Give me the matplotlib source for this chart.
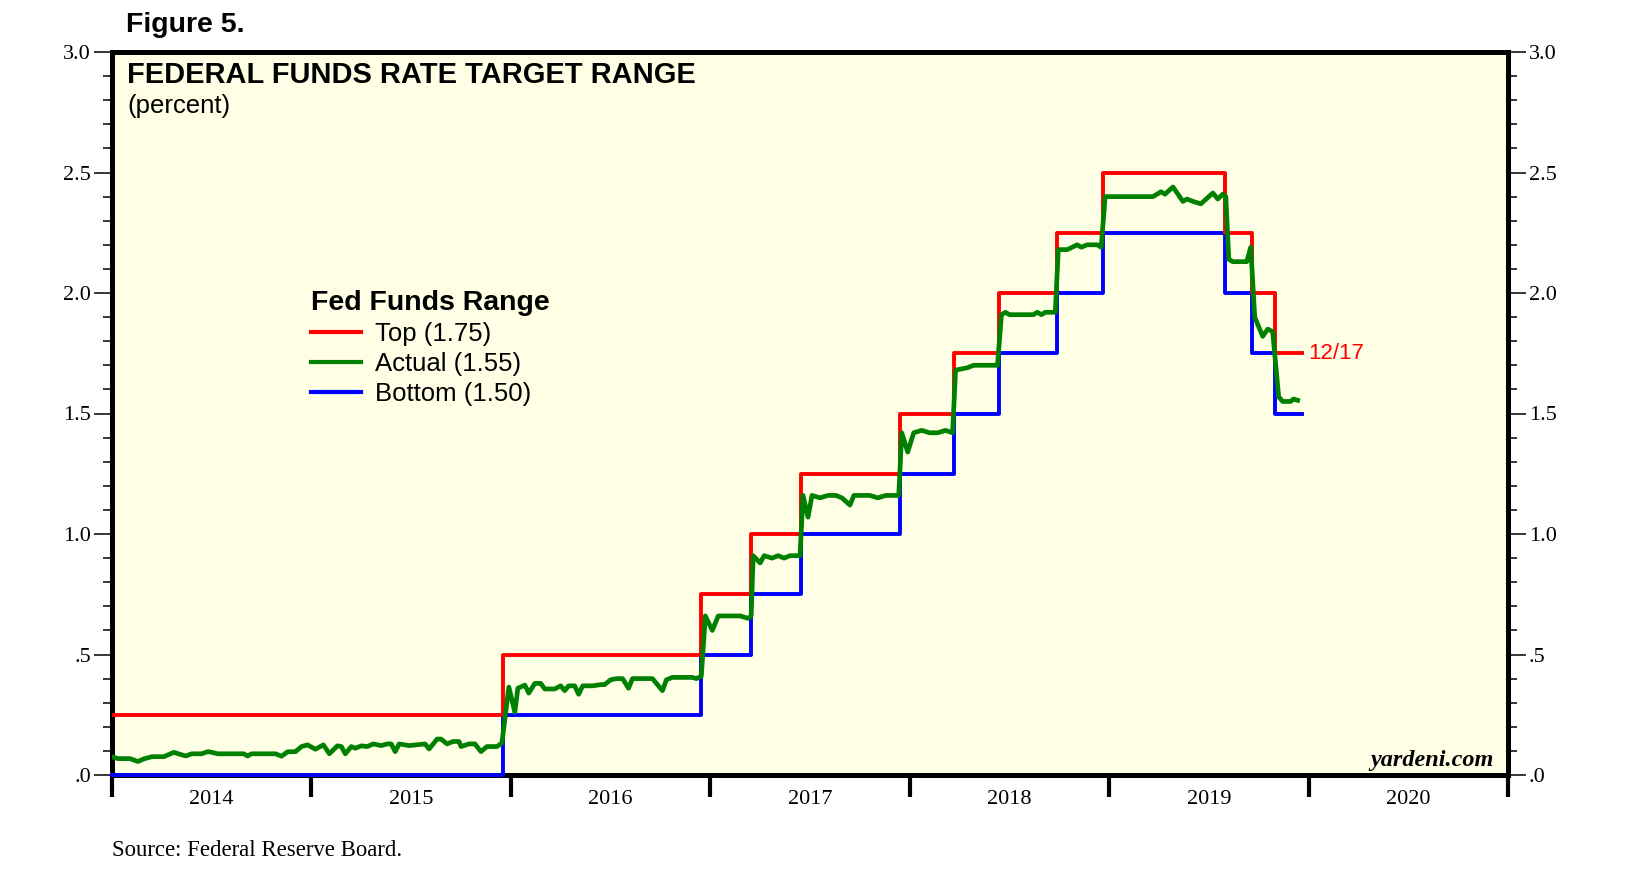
import matplotlib
matplotlib.use("Agg")
import matplotlib.pyplot as plt
from matplotlib.lines import Line2D
from matplotlib.ticker import FixedLocator, MultipleLocator, NullFormatter

# Target range: change dates (decimal years) and upper bound, last point = 12/17/2019
range_x = [2014.0, 2015.96, 2016.955, 2017.205, 2017.455, 2017.95, 2018.22, 2018.45,
           2018.74, 2018.97, 2019.58, 2019.715, 2019.83, 2019.965]
range_top = [0.25, 0.5, 0.75, 1.0, 1.25, 1.5, 1.75, 2.0, 2.25, 2.5, 2.25, 2.0, 1.75, 1.75]
range_bottom = [t - 0.25 for t in range_top]

# Effective fed funds rate
act_x = [2014.00, 2014.03, 2014.09, 2014.13, 2014.16, 2014.20, 2014.26, 2014.31, 2014.34, 2014.37,
         2014.40, 2014.45, 2014.48, 2014.50, 2014.53, 2014.66, 2014.68, 2014.70, 2014.82, 2014.85,
         2014.88, 2014.92, 2014.95, 2014.98, 2015.02, 2015.06, 2015.09, 2015.13, 2015.15, 2015.17,
         2015.20, 2015.22, 2015.25, 2015.28, 2015.31, 2015.35, 2015.38, 2015.40, 2015.42, 2015.44,
         2015.49, 2015.57, 2015.59, 2015.63, 2015.65, 2015.68, 2015.71, 2015.74, 2015.75, 2015.79,
         2015.82, 2015.85, 2015.88, 2015.93, 2015.955,
         2015.99, 2016.02, 2016.035, 2016.07, 2016.09, 2016.12, 2016.15, 2016.17, 2016.22, 2016.25,
         2016.27, 2016.29, 2016.32, 2016.34, 2016.36, 2016.41, 2016.45, 2016.47, 2016.50, 2016.53,
         2016.56, 2016.59, 2016.61, 2016.71, 2016.76, 2016.78, 2016.81, 2016.91, 2016.93, 2016.955,
         2016.975, 2017.01, 2017.04, 2017.15, 2017.19, 2017.205,
         2017.215, 2017.25, 2017.27, 2017.31, 2017.34, 2017.37, 2017.40, 2017.45,
         2017.465, 2017.49, 2017.51, 2017.55, 2017.59, 2017.63, 2017.66, 2017.70, 2017.72, 2017.76,
         2017.80, 2017.84, 2017.88, 2017.945,
         2017.96, 2017.99, 2018.02, 2018.06, 2018.10, 2018.14, 2018.18, 2018.215,
         2018.23, 2018.29, 2018.32, 2018.44,
         2018.46, 2018.48, 2018.50, 2018.62, 2018.64, 2018.66, 2018.68, 2018.73,
         2018.745, 2018.79, 2018.84, 2018.86, 2018.89, 2018.94, 2018.96,
         2018.98, 2019.22, 2019.26, 2019.28, 2019.32, 2019.37, 2019.39, 2019.42, 2019.46, 2019.52,
         2019.545, 2019.57, 2019.585,
         2019.60, 2019.62, 2019.69, 2019.71, 2019.73, 2019.77, 2019.795, 2019.82, 2019.85, 2019.87,
         2019.91, 2019.925, 2019.945]
act_y = [0.076, 0.068, 0.068, 0.056, 0.067, 0.076, 0.076, 0.094, 0.086, 0.079,
         0.088, 0.088, 0.097, 0.094, 0.088, 0.088, 0.079, 0.088, 0.088, 0.078,
         0.096, 0.097, 0.118, 0.125, 0.107, 0.125, 0.088, 0.121, 0.118, 0.088,
         0.118, 0.111, 0.121, 0.118, 0.129, 0.122, 0.129, 0.129, 0.097, 0.129,
         0.122, 0.129, 0.108, 0.149, 0.149, 0.129, 0.139, 0.139, 0.118, 0.129,
         0.129, 0.097, 0.118, 0.118, 0.132,
         0.365, 0.26, 0.36, 0.373, 0.34, 0.38, 0.38, 0.357, 0.357, 0.37,
         0.35, 0.37, 0.37, 0.335, 0.37, 0.37, 0.375, 0.375, 0.395, 0.40,
         0.40, 0.36, 0.40, 0.40, 0.35, 0.395, 0.405, 0.405, 0.40, 0.41,
         0.66, 0.60, 0.66, 0.66, 0.65, 0.66,
         0.91, 0.88, 0.91, 0.90, 0.91, 0.90, 0.91, 0.91,
         1.16, 1.07, 1.16, 1.15, 1.16, 1.16, 1.15, 1.12, 1.16, 1.16,
         1.16, 1.15, 1.16, 1.16,
         1.42, 1.34, 1.42, 1.43, 1.42, 1.42, 1.43, 1.42,
         1.68, 1.69, 1.70, 1.70,
         1.91, 1.92, 1.91, 1.91, 1.92, 1.91, 1.92, 1.92,
         2.18, 2.18, 2.20, 2.19, 2.20, 2.20, 2.19,
         2.40, 2.40, 2.42, 2.41, 2.44, 2.38, 2.39, 2.38, 2.37, 2.415,
         2.39, 2.41, 2.40,
         2.14, 2.13, 2.13, 2.19, 1.90, 1.82, 1.85, 1.84, 1.57, 1.55,
         1.55, 1.56, 1.555]

years = [2014, 2015, 2016, 2017, 2018, 2019, 2020]
ytick_vals = [0.0, 0.5, 1.0, 1.5, 2.0, 2.5, 3.0]
ytick_labels = ['.0', '.5', '1.0', '1.5', '2.0', '2.5', '3.0']
legend_labels = ['Top (1.75)', 'Actual (1.55)', 'Bottom (1.50)']

W, H = 1626, 894
serif = ['Liberation Serif', 'DejaVu Serif']
sans = ['Liberation Sans', 'DejaVu Sans']

fig = plt.figure(figsize=(W / 100, H / 100), dpi=100)
ax = fig.add_axes([112 / W, 1 - 775 / H, (1508 - 112) / W, (775 - 52) / H])
ax.set_facecolor('#ffffe6')

ax.step(range_x, range_bottom, where='post', color='#0000ff', lw=2.8, zorder=3, clip_on=False)
ax.step(range_x, range_top, where='post', color='#ff0000', lw=2.8, zorder=3)
ax.plot(act_x, act_y, color='#008000', lw=3.4, zorder=4, solid_joinstyle='round')

ax.set_xlim(2014, 2021)
ax.set_ylim(0, 3.0)

for s in ax.spines.values():
    s.set_linewidth(3.6)

# y axis on both sides
ax.yaxis.set_major_locator(FixedLocator(ytick_vals))
ax.set_yticklabels(ytick_labels)
ax.yaxis.set_minor_locator(MultipleLocator(0.1))
ax.tick_params(axis='y', which='major', direction='out', length=13, width=1.1,
               left=True, right=True, labelleft=True, labelright=True, labelsize=16, pad=2)
ax.tick_params(axis='y', which='minor', direction='out', length=6.5, width=1.1,
               left=True, right=True)

# x axis: year boundaries as ticks, labels mid-year
ax.xaxis.set_major_locator(FixedLocator(years + [2021]))
ax.xaxis.set_major_formatter(NullFormatter())
ax.xaxis.set_minor_locator(FixedLocator([y + 0.5 for y in years]))
ax.set_xticklabels([str(y) for y in years], minor=True)
ax.tick_params(axis='x', which='major', direction='out', length=16, width=3)
ax.tick_params(axis='x', which='minor', length=0, labelsize=16, pad=11)

for lab in ax.get_xticklabels(minor=True):
    lab.set_family(serif)
for t in ax.yaxis.get_major_ticks():
    t.label1.set_family(serif)
    t.label2.set_family(serif)

fig.text(126 / W, 1 - 25 / H, 'Figure 5.', family=sans, fontsize=20.5, weight='bold', va='center')
fig.text(127 / W, 1 - 75 / H, 'FEDERAL FUNDS RATE TARGET RANGE', family=sans, fontsize=20.9,
         weight='bold', va='center')
fig.text(127 / W, 1 - 106 / H, '(percent)', family=sans, fontsize=18.5, va='center')
fig.text(112 / W, 1 - 851 / H, 'Source: Federal Reserve Board.', family=serif, fontsize=16.4,
         va='center')
ax.text(0.9895, 0.013, 'yardeni.com', transform=ax.transAxes, family=serif, fontsize=17.5,
        weight='bold', style='italic', ha='right', va='baseline')

ax.annotate('12/17', xy=(range_x[-1], range_top[-1]), xytext=(5, 0), textcoords='offset points',
            color='#ff0000', family=sans, fontsize=16, va='center', ha='left')

handles = [Line2D([], [], color='#ff0000', lw=3),
           Line2D([], [], color='#008000', lw=3),
           Line2D([], [], color='#0000ff', lw=3)]
leg = ax.legend(handles, legend_labels, title='Fed Funds Range', loc='upper left',
                bbox_to_anchor=(311 / W, 1 - 290 / H), bbox_transform=fig.transFigure,
                frameon=False, borderpad=0, borderaxespad=0, handlelength=1.95,
                handletextpad=0.55, labelspacing=0.23, alignment='left',
                prop={'family': sans, 'size': 18.5},
                title_fontproperties={'family': sans, 'size': 20.5, 'weight': 'bold'})

fig.savefig('out.png', dpi=100, facecolor='white')
